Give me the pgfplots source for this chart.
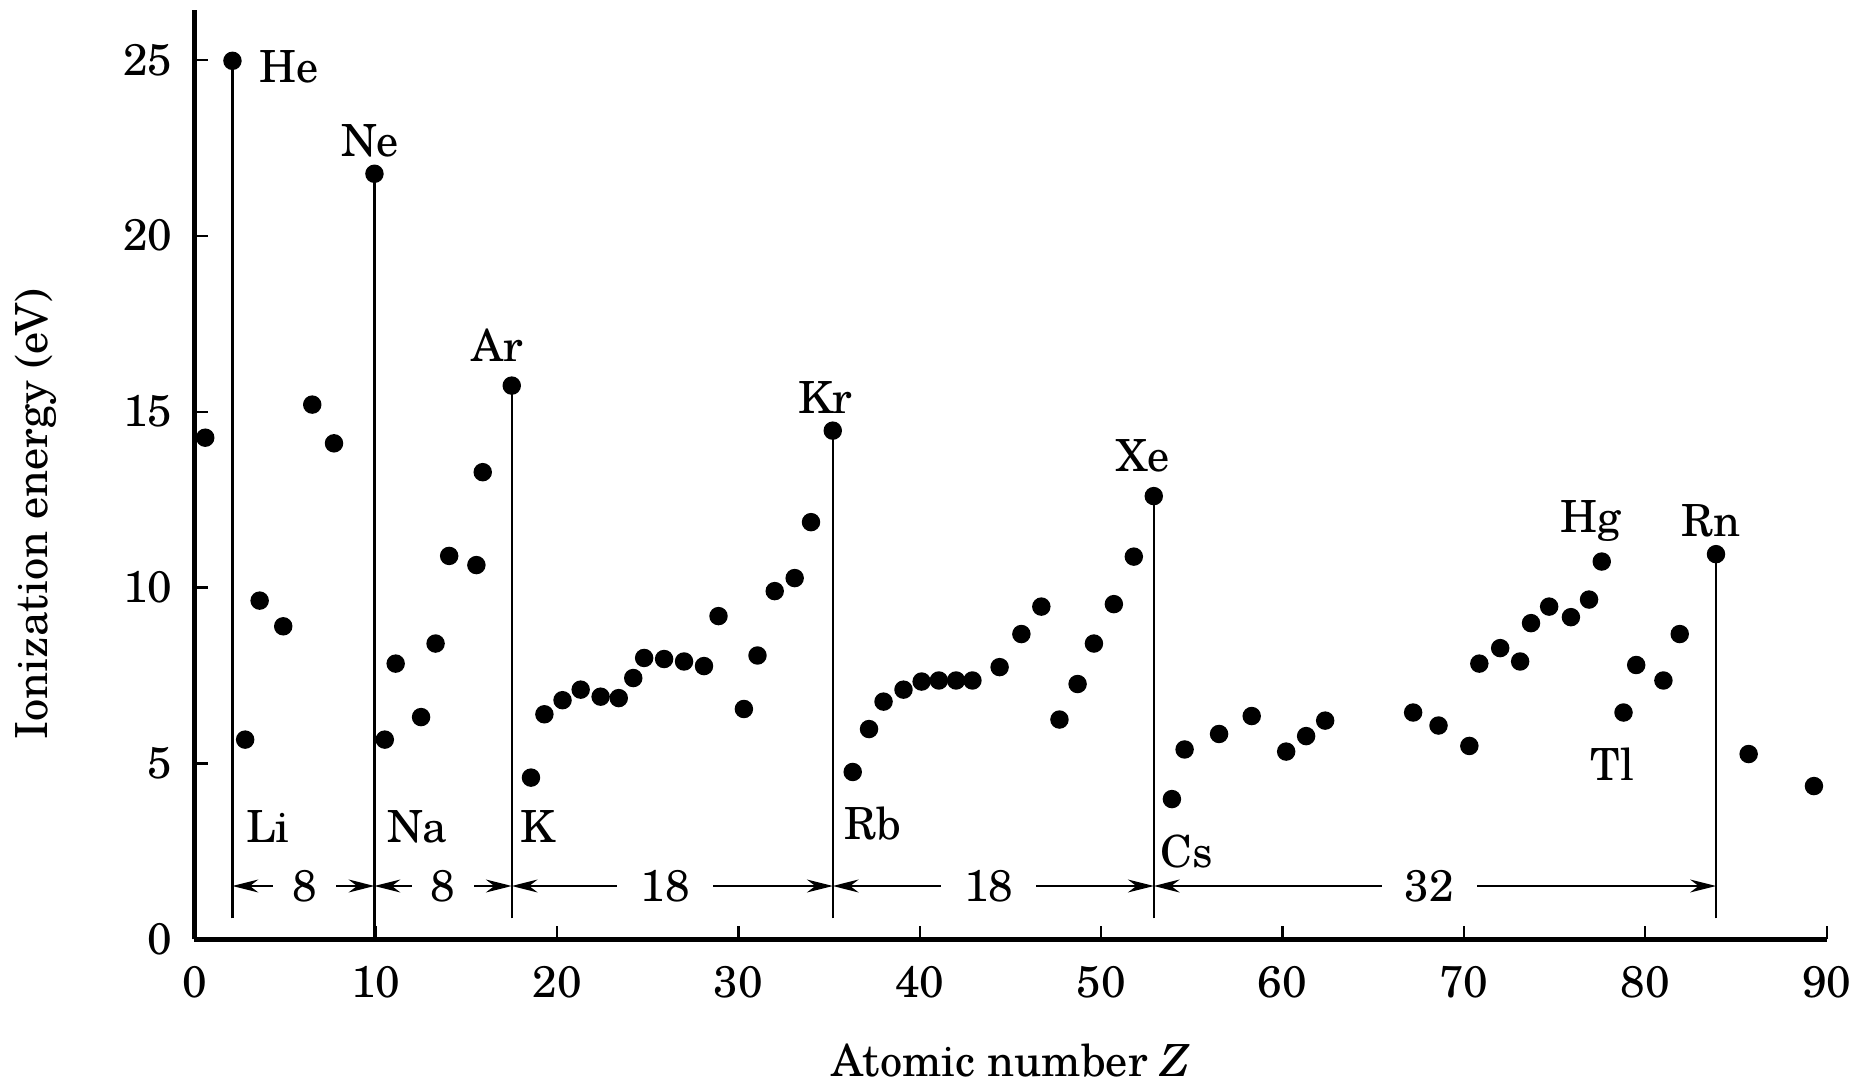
\documentclass[12pt,border=0pt]{standalone}
\usepackage{fontspec}
\setmainfont{TeX Gyre Schola}
\usepackage{pgfplots}
\pgfplotsset{compat=1.18}
\usetikzlibrary{arrows.meta}

\begin{document}
\begin{tikzpicture}
\begin{axis}[
  scale only axis, width=15.55cm, height=8.85cm,
  xmin=0, xmax=90, ymin=0, ymax=26.4,
  axis lines=left, axis line style={-, line width=1.2pt},
  xtick={0,10,...,90}, ytick={0,5,...,25},
  tick align=inside, major tick length=0.13cm,
  tick style={line width=0.6pt, black},
  /pgf/number format/assume math mode=true,
  xticklabel style={yshift=-0.11cm},
  yticklabel style={xshift=-0.06cm},
  xlabel={Atomic number \textit{Z}},
  ylabel={Ionization energy (eV)},
  xlabel style={at={(axis description cs:0.5,-0.147)}, anchor=base, inner sep=0pt},
  ylabel style={at={(axis description cs:-0.075,0.458)}, anchor=south},
  clip=false,
]
% vertical lines at the noble gases
\addplot[black, line width=0.6pt] coordinates {(2.1,0.6) (2.1,25.0)};
\addplot[black, line width=0.6pt] coordinates {(9.93,0) (9.93,21.76)};
\addplot[black, line width=0.6pt] coordinates {(17.5,0.6) (17.5,15.74)};
\addplot[black, line width=0.6pt] coordinates {(35.2,0.6) (35.2,14.46)};
\addplot[black, line width=0.6pt] coordinates {(52.9,0.6) (52.9,12.6)};
\addplot[black, line width=0.6pt] coordinates {(83.9,0.6) (83.9,10.95)};

\addplot[only marks, mark=*, mark size=2.3pt, black] coordinates {
(0.6,14.26) (2.1,24.97) (2.8,5.68) (3.6,9.63) (4.9,8.9) (6.5,15.2) (7.7,14.1)
(9.93,21.76) (10.5,5.68) (11.1,7.84) (12.5,6.32) (13.3,8.41) (14.05,10.9)
(15.55,10.64) (15.9,13.28) (17.5,15.74)
(18.56,4.6) (19.3,6.4) (20.3,6.8) (21.3,7.1) (22.4,6.9) (23.4,6.86) (24.2,7.43)
(24.8,8.0) (25.9,7.97) (27.0,7.9) (28.1,7.77) (28.9,9.19) (30.3,6.55) (31.05,8.07)
(32.0,9.9) (33.1,10.27) (34.0,11.86) (35.2,14.46)
(36.3,4.76) (37.2,5.98) (38.0,6.76) (39.1,7.1) (40.1,7.33) (41.05,7.36) (42.0,7.36)
(42.9,7.36) (44.4,7.74) (45.6,8.68) (46.7,9.46) (47.7,6.25) (48.7,7.26) (49.6,8.41)
(50.7,9.53) (51.8,10.88) (52.9,12.6)
(53.9,3.99) (54.6,5.4) (56.5,5.84) (58.3,6.35) (60.2,5.34) (61.3,5.78) (62.35,6.22)
(67.2,6.45) (68.6,6.08) (70.3,5.5) (70.85,7.84) (72.0,8.28) (73.1,7.9) (73.7,8.99)
(74.7,9.46) (75.9,9.16) (76.9,9.66) (77.6,10.74) (78.8,6.45) (79.5,7.8) (81.0,7.36)
(81.9,8.68) (83.9,10.95) (85.7,5.27) (89.3,4.36)
};

% period-length arrows
\tikzset{per/.style={{Stealth[length=7pt,width=3.5pt]}-{Stealth[length=7pt,width=3.5pt]}, line width=0.6pt}}
\draw[per] (axis cs:2.1,1.52) -- (axis cs:9.93,1.52);
\draw[per] (axis cs:9.93,1.52) -- (axis cs:17.5,1.52);
\draw[per] (axis cs:17.5,1.52) -- (axis cs:35.2,1.52);
\draw[per] (axis cs:35.2,1.52) -- (axis cs:52.9,1.52);
\draw[per] (axis cs:52.9,1.52) -- (axis cs:83.9,1.52);
\node[fill=white, inner xsep=0.18cm, inner ysep=1pt] at (axis cs:6.08,1.52) {8};
\node[fill=white, inner xsep=0.18cm, inner ysep=1pt] at (axis cs:13.7,1.52) {8};
\node[fill=white, inner xsep=0.22cm, inner ysep=1pt] at (axis cs:25.95,1.52) {18};
\node[fill=white, inner xsep=0.22cm, inner ysep=1pt] at (axis cs:43.8,1.52) {18};
\node[fill=white, inner xsep=0.22cm, inner ysep=1pt] at (axis cs:68.1,1.52) {32};

% element names
\node at (axis cs:5.2,24.8) {He};
\node at (axis cs:9.67,22.7) {Ne};
\node at (axis cs:16.7,16.9) {Ar};
\node at (axis cs:34.8,15.4) {Kr};
\node at (axis cs:52.3,13.75) {Xe};
\node at (axis cs:77.0,11.9) {Hg};
\node at (axis cs:83.6,11.9) {Rn};
\node at (axis cs:4.05,3.2) {Li};
\node at (axis cs:12.3,3.2) {Na};
\node at (axis cs:18.95,3.2) {K};
\node at (axis cs:37.4,3.3) {Rb};
\node at (axis cs:54.7,2.5) {Cs};
\node at (axis cs:78.2,4.97) {Tl};
\path (rel axis cs:0,1) -- ++(0,0.1cm);
\path (rel axis cs:0,0) -- ++(0,-1.38cm);
\end{axis}
\end{tikzpicture}
\end{document}
